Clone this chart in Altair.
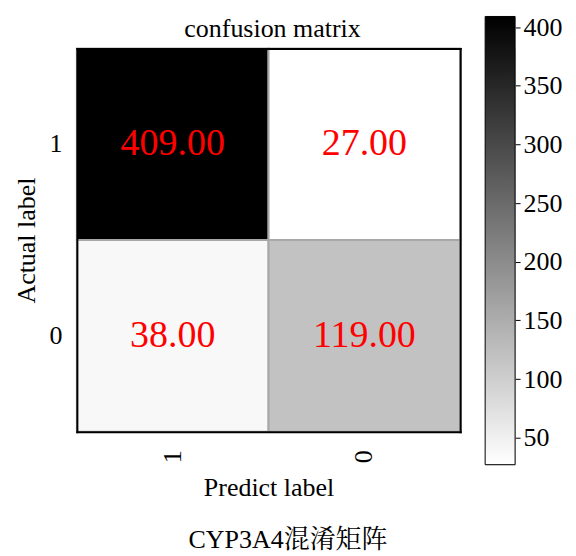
import altair as alt
import pandas as pd

# data
actual = ["1", "1", "0", "0"]
predicted = ["1", "0", "1", "0"]
counts = [409, 27, 38, 119]
label_order = ["1", "0"]
colorbar_ticks = [50, 100, 150, 200, 250, 300, 350, 400]

FONT = "'Times New Roman', 'Liberation Serif', 'Noto Serif CJK SC', 'Noto Sans CJK SC', serif"
FS = 26

df = pd.DataFrame({"actual": actual, "predicted": predicted, "count": counts})
cmin, cmax = min(counts), max(counts)

color_scale = alt.Scale(domain=[cmin, cmax], range=["#ffffff", "#000000"], interpolate="rgb")
band = alt.Scale(paddingInner=0, paddingOuter=0)

frame = dict(domain=True, domainColor="black", domainWidth=2, domainCap="square", zindex=1)

x_main = alt.X(
    "predicted:N", sort=label_order, scale=band,
    axis=alt.Axis(
        title="Predict label", orient="bottom", labelAngle=270, ticks=False,
        labelPadding=18, labelFont=FONT, labelFontSize=FS, labelColor="black",
        titleFont=FONT, titleFontSize=FS, titleFontWeight="normal", titleColor="black",
        titlePadding=12, grid=False, **frame,
    ),
)
y_main = alt.Y(
    "actual:N", sort=label_order, scale=band,
    axis=alt.Axis(
        title="Actual label", orient="left", labelAngle=0, ticks=False,
        labelPadding=15, labelFont=FONT, labelFontSize=FS, labelColor="black",
        titleFont=FONT, titleFontSize=FS, titleFontWeight="normal", titleColor="black",
        titlePadding=9, grid=False, **frame,
    ),
)
x_top = alt.X(
    "predicted:N", sort=label_order, scale=band,
    axis=alt.Axis(title=None, orient="top", labels=False, ticks=False, grid=False, **frame),
)
y_right = alt.Y(
    "actual:N", sort=label_order, scale=band,
    axis=alt.Axis(title=None, orient="right", labels=False, ticks=False, grid=False, **frame),
)

cells = alt.Chart(df).mark_rect(stroke="#a8a8a8", strokeWidth=2).encode(
    x=x_main, y=y_main,
    color=alt.Color("count:Q", scale=color_scale, legend=None),
)

texts = alt.Chart(df).mark_text(color="red", fontSize=38, font=FONT, baseline="middle").encode(
    x=x_top, y=y_right,
    text=alt.Text("count:Q", format=".2f"),
)

main = (
    alt.layer(cells, texts)
    .resolve_axis(x="independent", y="independent")
    .properties(
        width=384,
        height=384,
        title=alt.TitleParams(
            "confusion matrix", font=FONT, fontSize=FS, fontWeight="normal",
            color="black", offset=5, dx=4
        ),
    )
)

# colorbar: panel origin is aligned with the heatmap's top, the bar extends 32px above it
cb_df = pd.DataFrame({"lo": [cmin], "hi": [cmax]})
colorbar = (
    alt.Chart(cb_df)
    .mark_rect(
        fill=alt.LinearGradient(
            gradient="linear",
            stops=[
                alt.GradientStop(color="#ffffff", offset=0),
                alt.GradientStop(color="#000000", offset=1),
            ],
            x1=0, x2=0, y1=1, y2=0,
        ),
        stroke="black",
        strokeWidth=1,
    )
    .encode(
        y=alt.Y(
            "lo:Q",
            scale=alt.Scale(domain=[cmin, cmax], nice=False, zero=False, range=[417, -32]),
            axis=alt.Axis(
                orient="right",
                values=colorbar_ticks,
                title=None,
                grid=False,
                domain=False,
                tickSize=5,
                tickColor="black",
                labelPadding=3,
                labelFont=FONT,
                labelFontSize=FS,
                labelColor="black",
            ),
        ),
        y2="hi:Q",
    )
    .properties(width=30, height=417)
)

chart = (
    alt.concat(
        main, colorbar, columns=2, spacing=22,
        title=alt.TitleParams(
            "CYP3A4混淆矩阵", orient="bottom", font=FONT, fontSize=FS,
            fontWeight="normal", color="black", anchor="middle", offset=26
        ),
    )
    .configure_view(strokeWidth=0)
    .configure(background="white")
)

chart.save("out.html", embed_options={"renderer": "svg", "actions": False})
